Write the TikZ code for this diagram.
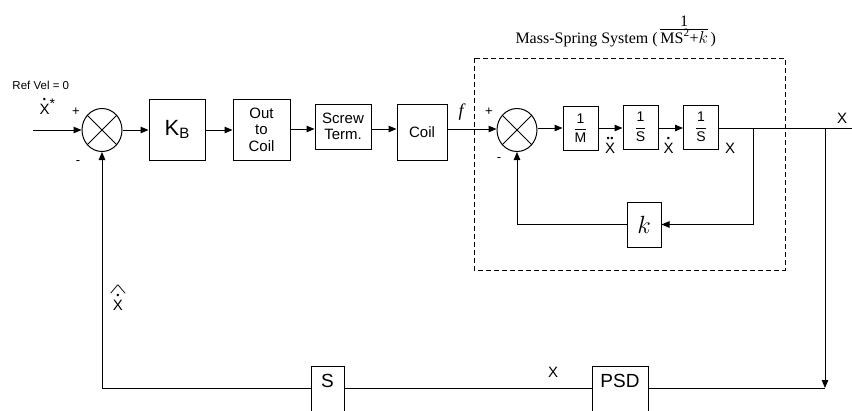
\documentclass[tikz,border=0pt]{standalone}
\usepackage{amsmath}
\usepackage{fontspec}
\setmainfont{Liberation Sans}
\newfontfamily\seriffont{Liberation Serif}
\usetikzlibrary{arrows.meta,shapes.geometric}
\newcommand\fs[1]{\fontsize{#1}{#1}\selectfont}
\newcommand\dotover[2]{\leavevmode\vbox{\offinterlineskip\halign{\hfil##\hfil\cr #1\cr\noalign{\kern 0.8pt}#2\cr}}}
\newcommand\bul{{\fs{9}\textbullet}}
\newcommand\fr[2]{$\genfrac{}{}{0.9pt}{0}{\mbox{#1}}{\mbox{#2}}$}
\begin{document}
\begin{tikzpicture}[x=1pt,y=-1pt,
  line width=1pt,
  blk/.style={draw, line width=1pt, inner sep=0pt, fill=white, align=center, font=\fontsize{15}{16.5}\selectfont},
  sumj/.style={draw, ellipse, line width=1pt, minimum width=40pt, minimum height=43pt, inner sep=0pt},
  sig/.style={-{Triangle[length=8pt,width=6.5pt]}},
  lbl/.style={inner sep=0pt, font=\fs{15}},
  grp/.style={draw, dash pattern=on 5pt off 3pt, line width=0.9pt},
]
\path[use as bounding box, clip] (0,0) rectangle (852,410);
% grouping box
\draw[grp] (474,58) rectangle (785,270);
% summing junctions
\node[sumj] (s1) at (102,130) {};
\draw (s1.45) -- (s1.225) (s1.135) -- (s1.315);
\node[sumj] (s2) at (517,130) {};
\draw (s2.45) -- (s2.225) (s2.135) -- (s2.315);
% blocks
\node[blk, minimum width=56pt, minimum height=61pt] (kb) at (177,129.5) {\fs{22}K\raisebox{-3pt}{\fs{15}B}};
\node[blk, minimum width=57pt, minimum height=61pt] (oc) at (261.5,129.5) {Out\\to\\Coil};
\node[blk, minimum width=56pt, minimum height=45pt, font=\fontsize{15}{15.5}\selectfont] (st) at (343,126.5) {Screw\\Term.};
\node[blk, minimum width=50pt, minimum height=56pt] (co) at (422,132) {Coil};
\node[blk, minimum width=35pt, minimum height=44pt, font=\fs{14}] (m) at (580.5,128) {\fr{1}{M}};
\node[blk, minimum width=35pt, minimum height=44pt, font=\fs{14}] (i1) at (640.5,127) {\fr{1}{S}};
\node[blk, minimum width=35pt, minimum height=44pt, font=\fs{14}] (i2) at (701,127) {\fr{1}{S}};
\node[blk, minimum width=34pt, minimum height=45pt, font=\fs{27}] (kk) at (644,224.5) {$k$};
\node[blk, minimum width=56pt, minimum height=50pt, text depth=21pt, font=\fs{19}] (psd) at (620,391) {PSD};
\node[blk, minimum width=33pt, minimum height=50pt, text depth=21pt, font=\fs{19}] (sb) at (327.5,391) {S};
% connectors
\coordinate (ly) at (0,129);
\coordinate (in) at (33,130);
\coordinate (j1) at (753,128);
\coordinate (j2) at (825,128);
\coordinate (out) at (860,128);
\coordinate (c3) at (825,388);
\draw[sig] (in) -- (s1.west);
\draw[sig] (s1.east) -- (kb.west |- s1.east);
\draw[sig] (kb.east |- s1.east) -- (oc.west |- s1.east);
\draw[sig] (oc.east |- ly) -- (st.west |- ly);
\draw[sig] (st.east |- ly) -- (co.west |- ly);
\draw[sig] (co.east |- ly) -- (s2.west |- ly);
\draw[sig] (s2.east |- j1) -- (m.west |- j1);
\draw[sig] (m.east |- j1) -- (i1.west |- j1);
\draw[sig] (i1.east |- j1) -- (i2.west |- j1);
\draw (i2.east |- j1) -- (out);
\draw[sig] (j1) -- (j1 |- kk.east) -- (kk.east);
\draw[sig] (kk.west) -- (kk.west -| s2) -- (s2.south);
\draw[sig] (j2) -- (c3);
\draw (psd.east |- c3) -- (c3);
\draw (psd.west |- c3) -- (sb.east |- c3);
\draw[sig] (sb.west |- c3) -- (s1 |- c3) -- (s1.south);
% labels
\node[lbl, font=\fs{11.5}, anchor=base west] (ref) at (12,89) {Ref Vel = 0};
\node[lbl, anchor=base west] (xs) at (39,114) {\dotover{\bul}{X}\raisebox{6pt}{\fs{14}*}};
\node[lbl, font=\fs{13}] (p1) at (76,112) {+};
\node[lbl, font=\fs{13}] (m1) at (78,163) {-};
\node[lbl, font=\seriffont\itshape\fs{18}] (fl) at (461,112) {f};
\node[lbl, font=\fs{13}] (p2) at (489,112) {+};
\node[lbl, font=\fs{13}] (m2) at (499,160) {-};
\node[lbl, anchor=base] (xdd) at (610,153) {\dotover{\bul\kern0.6pt\bul}{X}};
\node[lbl, anchor=base] (xd) at (668.5,153) {\dotover{\bul}{X}};
\node[lbl, anchor=base] (x1) at (730,153) {X};
\node[lbl, anchor=base] (x2) at (842,123) {X};
\node[lbl, anchor=base] (xh) at (118,310) {\dotover{\scalebox{1.9}[1]{$\wedge$}}{\dotover{\bul}{X}}};
\node[lbl, anchor=base] (x3) at (553,377) {X};
\node[inner sep=0pt, anchor=base west, font=\seriffont\fs{16}] (title) at (515,43)
  {Mass-Spring System (\,\begin{tabular}[b]{@{}c@{}}1\\[-2pt]\hline\rule{0pt}{12pt}MS\textsuperscript{2}+$k$\end{tabular}\,)};
\end{tikzpicture}
\end{document}
